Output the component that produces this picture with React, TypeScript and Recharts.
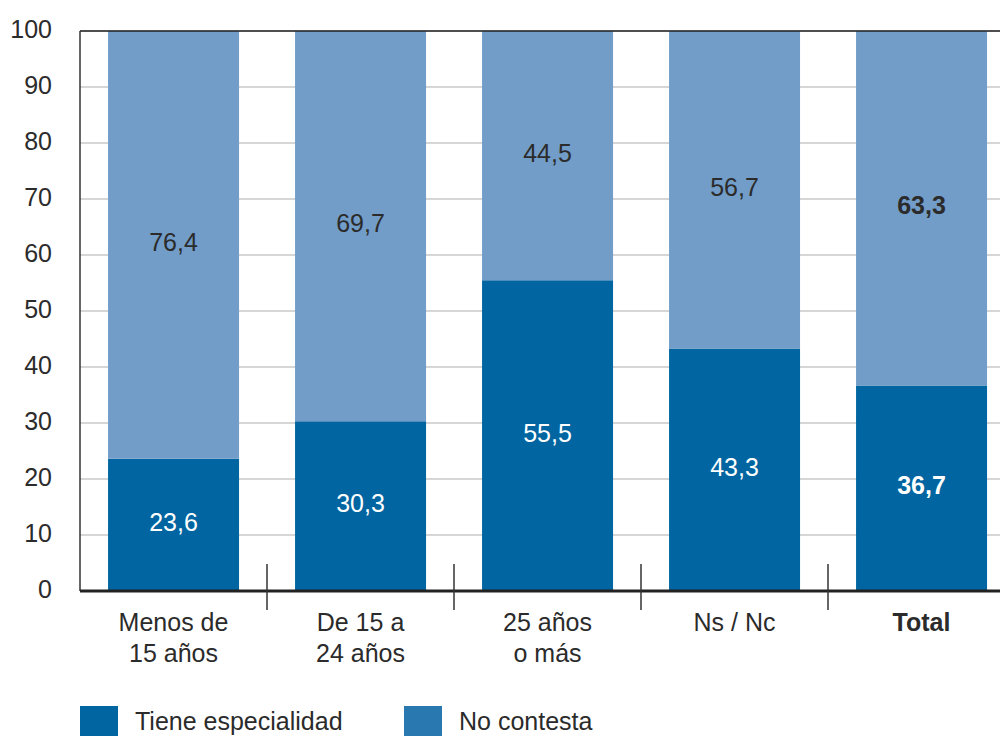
import React from 'react';
import { BarChart, Bar, XAxis, YAxis, CartesianGrid, ReferenceLine, LabelList, Legend } from 'recharts';

const categories = [['Menos de', '15 años'], ['De 15 a', '24 años'], ['25 años', 'o más'], ['Ns / Nc'], ['Total']];
const tieneEspecialidad = [23.6, 30.3, 55.5, 43.3, 36.7];
const noContesta = [76.4, 69.7, 44.5, 56.7, 63.3];
const yTicks = [0, 10, 20, 30, 40, 50, 60, 70, 80, 90, 100];
const seriesNames = ['Tiene especialidad', 'No contesta'];

const data = categories.map((c, i) => ({
  name: c.join(' '),
  lines: c,
  a: tieneEspecialidad[i],
  b: noContesta[i],
}));

const FONT = '"Liberation Sans", Arial, Helvetica, sans-serif';
const DARK = '#0065a0';
const LIGHT = '#729dc8';
const LEGEND_COLORS = ['#0065a0', '#2a78b0'];
const TEXT = '#2b2b2b';
const lastIdx = categories.length - 1;

const fmt = (v: number) => v.toFixed(1).replace('.', ',');

const XTick = (props: any) => {
  const { x, y, payload, index } = props;
  const idx = payload.index ?? index;
  const lines: string[] = categories[idx] || [String(payload.value)];
  const off = payload.offset ?? 0;
  const bold = idx === lastIdx;
  return (
    <g>
      {idx < lastIdx && (
        <line x1={x + off} x2={x + off} y1={y - 27} y2={y + 19} stroke="#333" strokeWidth={1.5} />
      )}
      <text textAnchor="middle" fontFamily={FONT} fontSize={25} fill={TEXT} fontWeight={bold ? 700 : 400}>
        {lines.map((l, i) => (
          <tspan key={i} x={x} y={y + 40 + i * 31}>{l}</tspan>
        ))}
      </text>
    </g>
  );
};

const YTick = (props: any) => {
  const { x, y, payload } = props;
  return (
    <text x={x} y={y - 2} textAnchor="end" dominantBaseline="central" fontFamily={FONT} fontSize={25} fill={TEXT}>
      {payload.value}
    </text>
  );
};

const makeLabel = (color: string) => (props: any) => {
  const { x, y, width, height, value, index } = props;
  return (
    <text
      x={x + width / 2}
      y={y + height / 2 - 3}
      textAnchor="middle"
      dominantBaseline="central"
      fontFamily={FONT}
      fontSize={25}
      fontWeight={index === lastIdx ? 700 : 400}
      fill={color}
    >
      {fmt(value)}
    </text>
  );
};

const LegendContent = () => (
  <div style={{ display: 'flex', fontFamily: FONT, fontSize: 25, color: TEXT }}>
    {seriesNames.map((n, i) => (
      <div key={n} style={{ display: 'flex', alignItems: 'center', width: 324 }}>
        <div style={{ width: 38, height: 30, background: LEGEND_COLORS[i], marginRight: 17 }} />
        <span>{n}</span>
      </div>
    ))}
  </div>
);

export default function App() {
  return (
    <div style={{ position: 'absolute', left: 0, top: 0, width: 1000, height: 736, overflow: 'hidden', background: '#fff' }}>
      <BarChart
        width={1015}
        height={736}
        data={data}
        margin={{ top: 31, right: 0, bottom: 0, left: 0 }}
        barCategoryGap="15%"
      >
        <CartesianGrid vertical={false} stroke="#c8c8c8" strokeWidth={1.5} />
        <YAxis
          domain={[0, 100]}
          ticks={yTicks}
          width={80}
          tickSize={0}
          tickMargin={28}
          axisLine={{ stroke: '#333', strokeWidth: 1.5 }}
          tickLine={false}
          tick={<YTick />}
          interval={0}
        />
        <XAxis
          dataKey="name"
          height={145}
          tickSize={0}
          tickMargin={0}
          tickLine={false}
          axisLine={{ stroke: '#222', strokeWidth: 3 }}
          tick={<XTick />}
          interval={0}
        />
        <ReferenceLine y={100} stroke="#222" strokeWidth={1.5} />
        <Bar dataKey="a" stackId="s" fill={DARK} name={seriesNames[0]} isAnimationActive={false}>
          <LabelList dataKey="a" content={makeLabel('#ffffff')} />
        </Bar>
        <Bar dataKey="b" stackId="s" fill={LIGHT} name={seriesNames[1]} isAnimationActive={false}>
          <LabelList dataKey="b" content={makeLabel(TEXT)} />
        </Bar>
        <Legend
          layout="horizontal"
          verticalAlign="middle"
          align="center"
          content={<LegendContent />}
          wrapperStyle={{ position: 'absolute', left: 80, top: 706, width: 700, height: 30 }}
        />
      </BarChart>
    </div>
  );
}
